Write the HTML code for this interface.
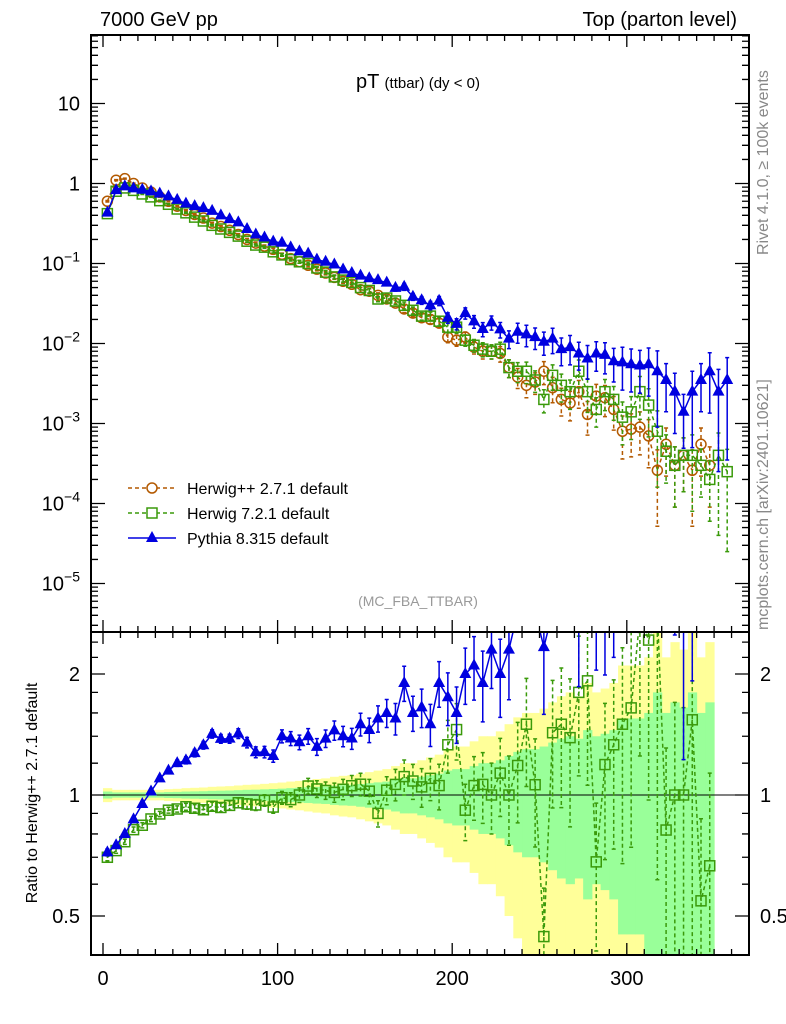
<!DOCTYPE html>
<html><head><meta charset="utf-8"><style>
html,body{margin:0;padding:0;background:#fff;overflow:hidden;width:786px;height:1024px}
svg{display:block}
svg text{font-family:"Liberation Sans",sans-serif}
</style></head><body>
<svg id="c" width="786" height="1024" xmlns="http://www.w3.org/2000/svg"></svg>
<script>
const pts = [2.5,7.5,12.5,17.5,22.5,27.5,32.5,37.5,42.5,47.5,52.5,57.5,62.5,67.5,72.5,77.5,82.5,87.5,92.5,97.5,102.5,107.5,112.5,117.5,122.5,127.5,132.5,137.5,142.5,147.5,152.5,157.5,162.5,167.5,172.5,177.5,182.5,187.5,192.5,197.5,202.5,207.5,212.5,217.5,222.5,227.5,232.5,237.5,242.5,247.5,252.5,257.5,262.5,267.5,272.5,277.5,282.5,287.5,292.5,297.5,302.5,307.5,312.5,317.5,322.5,327.5,332.5,337.5,342.5,347.5,352.5,357.5];
const herwigpp = [0.6,1.1,1.15,1.0,0.88,0.78,0.68,0.6,0.52,0.46,0.41,0.37,0.32,0.29,0.26,0.23,0.2,0.18,0.165,0.15,0.13,0.115,0.105,0.095,0.085,0.076,0.067,0.06,0.055,0.047,0.045,0.04,0.036,0.032,0.027,0.024,0.021,0.02,0.018,0.012,0.011,0.012,0.009,0.008,0.008,0.0075,0.005,0.0038,0.003,0.0033,0.0045,0.0028,0.002,0.0018,0.0025,0.0013,0.0022,0.0021,0.0015,0.0008,0.00085,0.0009,0.0007,0.00026,0.00055,0.0003,0.0004,0.00026,0.00055,0.0003,0,0];
const herwig7 = [0.42,0.8,0.88,0.82,0.74,0.68,0.61,0.55,0.48,0.43,0.38,0.34,0.3,0.27,0.245,0.22,0.19,0.17,0.16,0.14,0.128,0.112,0.105,0.1,0.088,0.078,0.068,0.062,0.058,0.05,0.046,0.036,0.037,0.034,0.03,0.026,0.022,0.022,0.019,0.016,0.016,0.011,0.0095,0.0085,0.008,0.0085,0.005,0.0045,0.0045,0.0035,0.002,0.004,0.003,0.0025,0.0045,0.0025,0.0015,0.0025,0.002,0.0012,0.0014,0.0025,0.0017,0.0008,0.00045,0.0003,0.0004,0.0004,0.0003,0.0002,0.0004,0.00025];
const pythia8 = [0.432,0.825,0.92,0.87,0.836,0.796,0.748,0.69,0.624,0.561,0.521,0.492,0.454,0.4,0.359,0.327,0.27,0.23,0.211,0.1875,0.182,0.159,0.142,0.133,0.112,0.105,0.097,0.084,0.076,0.0705,0.0653,0.062,0.0576,0.0496,0.0513,0.0384,0.0347,0.03,0.0342,0.021,0.0176,0.024,0.0189,0.0152,0.0184,0.015,0.0115,0.014,0.013,0.012,0.0105,0.0115,0.0085,0.009,0.0075,0.0065,0.0075,0.0072,0.006,0.0058,0.0055,0.0053,0.0055,0.0045,0.0035,0.0025,0.0014,0.0025,0.0035,0.0045,0.0025,0.0035];
const relErr = [0.02,0.015,0.015,0.015,0.015,0.015,0.015,0.017,0.018,0.02,0.021,0.022,0.024,0.025,0.026,0.028,0.03,0.031,0.033,0.035,0.037,0.04,0.042,0.045,0.048,0.05,0.055,0.058,0.06,0.065,0.07,0.075,0.08,0.09,0.1,0.1,0.11,0.12,0.13,0.15,0.16,0.16,0.18,0.2,0.2,0.22,0.25,0.28,0.3,0.3,0.32,0.35,0.38,0.4,0.38,0.45,0.4,0.42,0.45,0.55,0.55,0.55,0.6,0.8,0.6,0.7,0.65,0.8,0.6,0.7,0.9,0.9];
const xTicks = [0,100,200,300];
const mainTicks = [1,0,-1,-2,-3,-4,-5];
const ratioTicks = [2,1,0.5];

const svg=document.getElementById('c');const NS='http://www.w3.org/2000/svg';
function mk(t,a,p){const e=document.createElementNS(NS,t);for(const k in a)e.setAttribute(k,a[k]);(p||svg).appendChild(e);return e;}
const L=91,R=749,T=35,M=632,B=955;
const X=v=>103+1.746*v;
const Y=v=>183.5-80*Math.log10(v);
const YR=v=>795-402*Math.log10(v);
const cl=(v,a,b)=>Math.max(a,Math.min(b,v));
const clipM=mk('clipPath',{id:'cm'});mk('rect',{x:L,y:T,width:R-L,height:M-T},clipM);
const clipR=mk('clipPath',{id:'cr'});mk('rect',{x:L,y:M,width:R-L,height:B-M},clipR);
const gM=mk('g',{'clip-path':'url(#cm)'});
const gR=mk('g',{'clip-path':'url(#cr)'});
for(let i=0;i<pts.length;i++){if(!herwigpp[i])continue;const e=relErr[i];
 const top=cl(YR(1+2*e),M,B),bot=cl(YR(Math.max(1-2*e,0.01)),M,B);
 const y1=mk('rect',{x:X(pts[i]-2.5),width:1.746*5+0.5,y:top,height:bot-top,fill:'#ffff99'},gR);
 }
for(let i=0;i<pts.length;i++){if(!herwigpp[i])continue;const e=relErr[i];
 const top=cl(YR(1+e),M,B),bot=cl(YR(Math.max(1-e,0.01)),M,B);
 const g1=mk('rect',{x:X(pts[i]-2.5),width:1.746*5+0.5,y:top,height:bot-top,fill:'#99ff99'},gR);
 }
const one=mk('line',{x1:L,x2:R,y1:YR(1),y2:YR(1),stroke:'#000','stroke-width':1},gR);

function series(vals,col,dash,marker,name,ratio){
 const g=mk('g',{},ratio?gR:gM);
 const f=ratio?(i=>herwigpp[i]?vals[i]/herwigpp[i]:0):(i=>vals[i]);
 const Yf=ratio?YR:Y;const lo=ratio?M-20:T-20,hi=ratio?B+20:M+20;let d='';
 for(let i=0;i<pts.length;i++){const v=f(i);if(!(v>0))continue;const x=X(pts[i]),y=cl(Yf(v),lo,hi);d+=(d?'L':'M')+x+' '+y.toFixed(1);
  const e=relErr[i];const yt=cl(Yf(v*(1+e)),lo,hi),yb=cl(Yf(Math.max(v*(1-e),1e-9)),lo,hi);
  mk('path',{d:`M${x} ${yt}V${yb}M${x-2} ${yt}h4M${x-2} ${yb}h4`,stroke:col,'stroke-width':1.5,'stroke-dasharray':dash,fill:'none'},g);}
 mk('path',{d,stroke:col,'stroke-width':1.5,fill:'none','stroke-dasharray':dash},g);
 for(let i=0;i<pts.length;i++){const v=f(i);if(!(v>0))continue;const x=X(pts[i]),y=Yf(v);if(y<lo||y>hi)continue;
  let m;
  if(marker==='c')m=mk('circle',{cx:x,cy:y,r:5,fill:'none',stroke:col,'stroke-width':1.5},g);
  else if(marker==='s')m=mk('rect',{x:x-5,y:y-5,width:10,height:10,fill:'none',stroke:col,'stroke-width':1.5},g);
  else m=mk('path',{d:`M${x} ${y-7}L${x+6} ${y+4}L${x-6} ${y+4}Z`,fill:col},g);
  }
}
series(herwigpp,'#b35900','4,3','c','herwigpp-series',false);
series(herwig7,'#3a9a0a','4,3','s','herwig7-series',false);
series(pythia8,'#0000e0','','t','pythia8-series',false);
series(herwig7,'#3a9a0a','4,3','s','herwig7-ratio',true);
series(pythia8,'#0000e0','','t','pythia8-ratio',true);
const fr1=mk('rect',{x:L,y:T,width:R-L,height:M-T,fill:'none',stroke:'#000','stroke-width':2});
const fr2=mk('rect',{x:L,y:M,width:R-L,height:B-M,fill:'none',stroke:'#000','stroke-width':2});
let td='';
for(let v=0;v<=370;v+=10){const x=X(v);const l=v%100===0?12:6;td+=`M${x} ${B}v${-l}M${x} ${M}v${-l}M${x} ${M}v${l}M${x} ${T}v${l}`;}
for(let d=-6;d<=1;d++)for(let k=1;k<10;k++){const y=Y(k*Math.pow(10,d));if(y<T||y>M)continue;const l=k===1?14:7;td+=`M${L} ${y}h${l}M${R} ${y}h${-l}`;}
[0.4,0.5,0.6,0.7,0.8,0.9,1,1.2,1.4,1.6,1.8,2,2.2,2.4].forEach(v=>{const y=YR(v);const l=[0.5,1,2].includes(v)?14:7;td+=`M${L} ${y}h${l}M${R} ${y}h${-l}`;});
const tk=mk('path',{d:td,stroke:'#000','stroke-width':1.3,fill:'none'});
function tx(s,x,y,o){const e=mk('text',Object.assign({x,y,'font-size':20},o||{}));e.textContent=s;return e;}
xTicks.forEach(v=>{const e=tx(String(v),X(v),985,{'text-anchor':'middle'});});
mainTicks.forEach(p=>{const y=Y(Math.pow(10,p))+7;let e;
 if(p>=0)e=tx(p===1?'10':'1',80,y,{'text-anchor':'end'});
 else{e=mk('text',{x:80,y,'font-size':20,'text-anchor':'end'});const a=document.createElementNS(NS,'tspan');a.textContent='10';e.appendChild(a);const b=document.createElementNS(NS,'tspan');b.setAttribute('dy','-9');b.setAttribute('font-size','14');b.textContent='−'+(-p);e.appendChild(b);}
 });
ratioTicks.forEach(v=>{const a=tx(String(v),80,YR(v)+7,{'text-anchor':'end'});
 const b=tx(String(v),760,YR(v)+7);});
let e;
e=tx('7000 GeV pp',100,26);
e=tx('Top (parton level)',737,26,{'text-anchor':'end'});
e=mk('text',{x:418,y:88,'text-anchor':'middle','font-size':20});e.innerHTML='pT <tspan font-size="15">(ttbar) (dy &lt; 0)</tspan>';
e=tx('(MC_FBA_TTBAR)',418,606,{'text-anchor':'middle','font-size':14,fill:'#999'});
e=tx('Rivet 4.1.0, ≥ 100k events',0,0,{'font-size':16,fill:'#888',transform:'translate(768,255) rotate(-90)'});
e=tx('mcplots.cern.ch [arXiv:2401.10621]',0,0,{'font-size':16,fill:'#888',transform:'translate(768,630) rotate(-90)'});
e=tx('Ratio to Herwig++ 2.7.1 default',0,0,{'font-size':16,'text-anchor':'middle',transform:'translate(37,793) rotate(-90)'});
const lg=mk('g',{});
[['Herwig++ 2.7.1 default','#b35900','4,3','c',488],['Herwig 7.2.1 default','#3a9a0a','4,3','s',513],['Pythia 8.315 default','#0000e0','','t',538]].forEach(([s,c,d,m,y])=>{
 const g=mk('g',{},lg);
 mk('line',{x1:128,x2:176,y1:y,y2:y,stroke:c,'stroke-width':1.5,'stroke-dasharray':d},g);
 if(m==='c')mk('circle',{cx:152,cy:y,r:5,fill:'#fff',stroke:c,'stroke-width':1.5},g);
 else if(m==='s')mk('rect',{x:147,y:y-5,width:10,height:10,fill:'#fff',stroke:c,'stroke-width':1.5},g);
 else mk('path',{d:`M152 ${y-7}L158 ${y+4}L146 ${y+4}Z`,fill:c},g);
 const t=mk('text',{x:187,y:y+6,'font-size':16},g);t.textContent=s;});
</script>
</body></html>
